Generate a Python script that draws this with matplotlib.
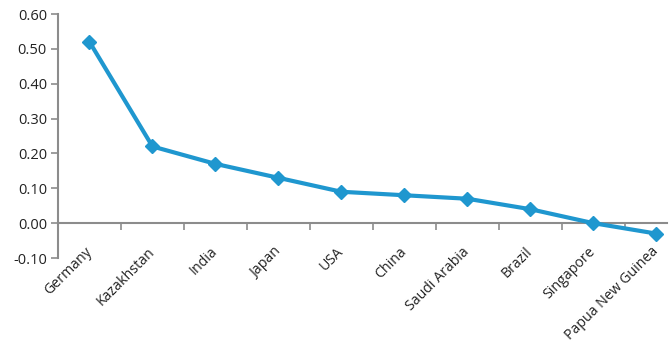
import matplotlib
matplotlib.use("Agg")
import matplotlib.pyplot as plt
import numpy as np

countries = ["Germany", "Kazakhstan", "India", "Japan", "USA", "China",
             "Saudi Arabia", "Brazil", "Singapore", "Papua New Guinea"]
values = [0.52, 0.22, 0.17, 0.13, 0.09, 0.08, 0.07, 0.04, 0.00, -0.03]
y_ticks = [-0.10, 0.00, 0.10, 0.20, 0.30, 0.40, 0.50, 0.60]

line_color = "#1F97CF"
axis_color = "#8C8C8C"

plt.rcParams["font.family"] = ["Open Sans", "DejaVu Sans"]

fig = plt.figure(figsize=(6.72, 3.49), dpi=100)
ax = fig.add_axes([58 / 672, 1 - 258 / 349, (667 - 58) / 672, (258 - 14) / 349])

x = np.arange(len(countries))
ax.plot(x, values, color=line_color, lw=3.0, marker="D", ms=7,
        markerfacecolor=line_color, markeredgecolor=line_color, zorder=3)

ax.set_ylim(-0.10, 0.60)
ax.set_xlim(-0.5, 9.17)
ax.set_yticks(y_ticks)
ax.set_yticklabels([f"{v:.2f}" for v in y_ticks], fontsize=10.5, color="#222222")

for s in ["top", "right"]:
    ax.spines[s].set_visible(False)
ax.spines["left"].set_color(axis_color)
ax.spines["left"].set_linewidth(1.5)
ax.spines["bottom"].set_position(("data", 0))
ax.spines["bottom"].set_color(axis_color)
ax.spines["bottom"].set_linewidth(1.5)

ax.tick_params(axis="y", length=5, width=1.2, color=axis_color, pad=3)

# category labels under the plot, boundary ticks on the zero line
ax.set_xticks(x)
ax.set_xticklabels(countries, fontsize=10.2, color="#222222")
ax.set_xticks(np.arange(0.5, len(countries) - 0.5, 1.0), minor=True)
ax.tick_params(axis="x", which="major", length=0, pad=19)
ax.tick_params(axis="x", which="minor", length=5, width=1.2, color=axis_color)
plt.setp(ax.get_xticklabels(), rotation=45, ha="right", va="center",
         rotation_mode="anchor")

fig.savefig("out.png", dpi=100)
